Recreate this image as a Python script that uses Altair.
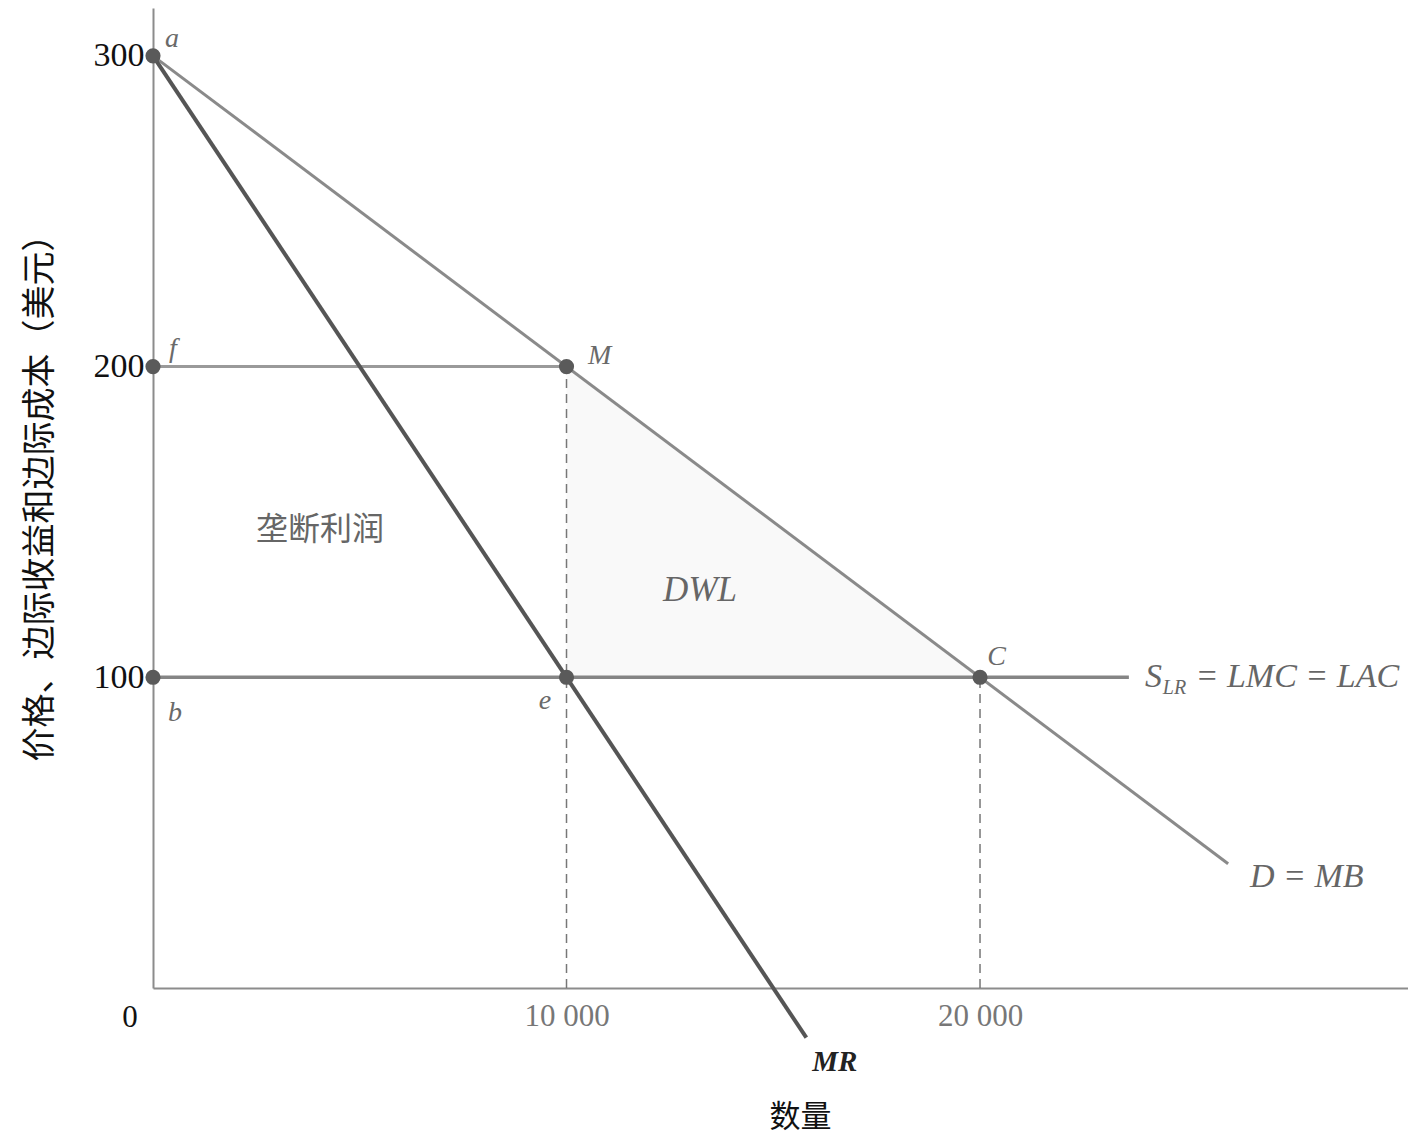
import altair as alt
import pandas as pd

# ---- data ----
x_ticks = [10000, 20000]
x_tick_labels = ["10 000", "20 000"]
y_ticks = [100, 200, 300]

demand_q = [0, 26000]
demand_p = [300, 40]

mr_q = [0, 15800]
mr_p = [300, -16]

supply_q = [0, 23600]
supply_p = [100, 100]

price_q = [0, 10000]
price_p = [200, 200]

dash_q = [10000, 10000, 20000, 20000]
dash_p = [0, 200, 0, 100]
dash_id = ["m", "m", "c", "c"]

dwl_q = [10000, 20000]
dwl_top = [200, 100]
dwl_bottom = [100, 100]

pt_q = [0, 0, 10000, 0, 10000, 20000]
pt_p = [300, 200, 200, 100, 100, 100]

letters = ["a", "f", "M", "b", "e", "C"]
letter_q = [460, 480, 10800, 530, 9480, 20400]
letter_p = [305.5, 205.5, 203.5, 88.5, 92.5, 106.5]

XMAX = 30350
YMAX = 315.4

serif = "Liberation Serif"
cjk = "Noto Sans CJK SC"

xs = alt.Scale(domain=[0, XMAX], nice=False, zero=False)
ys = alt.Scale(domain=[0, YMAX], nice=False, zero=False)

label_expr = " : ".join(
    f"datum.value == {v} ? '{t}'" for v, t in zip(x_ticks, x_tick_labels)
) + " : ''"

x_axis = alt.Axis(values=x_ticks, labelExpr=label_expr, grid=False, ticks=False,
                  domainColor="#8c8c8c", domainWidth=2,
                  labelFont=serif, labelFontSize=31, labelColor="#777777",
                  labelPadding=13, labelBaseline="top",
                  titleFont=cjk, titleFontSize=31, titleFontWeight="normal",
                  titleColor="#111111", titleX=647, titleY=129,
                  titleBaseline="middle", titleAlign="center")
y_axis = alt.Axis(values=y_ticks, grid=False, ticks=False,
                  domainColor="#8c8c8c", domainWidth=2,
                  labelFont=serif, labelFontSize=34, labelColor="#111111",
                  labelPadding=9,
                  titleFont=cjk, titleFontSize=34, titleFontWeight="normal",
                  titleColor="#111111", titleX=-113, titleY=481,
                  titleAngle=270, titleBaseline="middle", titleAlign="center")

X_TITLE = "数量"
Y_TITLE = "价格、边际收益和边际成本（美元）"

X = lambda f: alt.X(f, type="quantitative", scale=xs, axis=x_axis, title=X_TITLE)
Y = lambda f: alt.Y(f, type="quantitative", scale=ys, axis=y_axis, title=Y_TITLE)

def line_df(q, p):
    return pd.DataFrame({"q": q, "p": p})

dwl = alt.Chart(pd.DataFrame({"q": dwl_q, "t": dwl_top, "b": dwl_bottom})).mark_area(
    color="#f9f9f9").encode(x=X("q"), y=Y("t"), y2="b")

dashed = alt.Chart(pd.DataFrame({"q": dash_q, "p": dash_p, "id": dash_id})).mark_line(
    color="#777777", strokeWidth=1.5, strokeDash=[9, 6]).encode(x=X("q"), y=Y("p"), detail="id:N")

price = alt.Chart(line_df(price_q, price_p)).mark_line(color="#9a9a9a", strokeWidth=3).encode(
    x=X("q"), y=Y("p"))
supply = alt.Chart(line_df(supply_q, supply_p)).mark_line(color="#858585", strokeWidth=3.5).encode(
    x=X("q"), y=Y("p"))
demand = alt.Chart(line_df(demand_q, demand_p)).mark_line(color="#8a8a8a", strokeWidth=3).encode(
    x=X("q"), y=Y("p"))
mr = alt.Chart(line_df(mr_q, mr_p)).mark_line(color="#555555", strokeWidth=4).encode(
    x=X("q"), y=Y("p"))

points = alt.Chart(line_df(pt_q, pt_p)).mark_circle(color="#5a5a5a", size=230, opacity=1).encode(
    x=X("q"), y=Y("p"))

letter_txt = alt.Chart(pd.DataFrame({"q": letter_q, "p": letter_p, "t": letters})).mark_text(
    font=serif, fontStyle="italic", fontSize=28, color="#6a6a6a", align="center", baseline="middle"
).encode(x=X("q"), y=Y("p"), text="t:N")

# other annotations
ann_text = ["垄断利润"]
ann_q = [4040]
ann_p = [147.4]
monopoly = alt.Chart(pd.DataFrame({"q": ann_q, "p": ann_p, "t": ann_text})).mark_text(
    font=cjk, fontSize=32, color="#666666", align="center", baseline="middle"
).encode(x=X("q"), y=Y("p"), text="t:N")

dwl_lab = alt.Chart(pd.DataFrame({"q": [13230], "p": [128.1], "t": ["DWL"]})).mark_text(
    font=serif, fontStyle="italic", fontSize=35, color="#666666", baseline="middle", align="center"
).encode(x=X("q"), y=Y("p"), text="t:N")

ital_text = ["S", "= LMC = LAC", "D = MB"]
ital_q = [23990, 25210, 26530]
ital_p = [100.1, 100.1, 35.7]
ital_l = alt.Chart(pd.DataFrame({"q": ital_q, "p": ital_p, "t": ital_text})).mark_text(
    font=serif, fontStyle="italic", fontSize=34, color="#666666", baseline="middle", align="left"
).encode(x=X("q"), y=Y("p"), text="t:N")

sub_text = ["LR"]
sub_q = [24420]
sub_p = [96.6]
sub = alt.Chart(pd.DataFrame({"q": sub_q, "p": sub_p, "t": sub_text})).mark_text(
    font=serif, fontStyle="italic", fontSize=20, color="#666666", baseline="middle", align="left"
).encode(x=X("q"), y=Y("p"), text="t:N")

mr_lab = alt.Chart(pd.DataFrame({"q": [16490], "p": [-23.8], "t": ["MR"]})).mark_text(
    font=serif, fontStyle="italic", fontWeight="bold", fontSize=29, color="#222222",
    baseline="middle", align="center"
).encode(x=X("q"), y=Y("p"), text="t:N")

zero_lab = alt.Chart(pd.DataFrame({"q": [-556], "p": [-9.7], "t": ["0"]})).mark_text(
    font=serif, fontSize=31, color="#111111", baseline="middle", align="center"
).encode(x=X("q"), y=Y("p"), text="t:N")

chart = alt.layer(
    dwl, dashed, price, supply, demand, mr, points,
    letter_txt, monopoly, dwl_lab, ital_l, sub, mr_lab, zero_lab
).properties(
    width=1255, height=980,
    padding={"left": 145, "top": 0, "right": 0, "bottom": 147},
    autosize=alt.AutoSizeParams(type="none"),
    background="white",
).configure_view(stroke=None)

chart.save("out.html", embed_options={"renderer": "svg", "actions": False})
